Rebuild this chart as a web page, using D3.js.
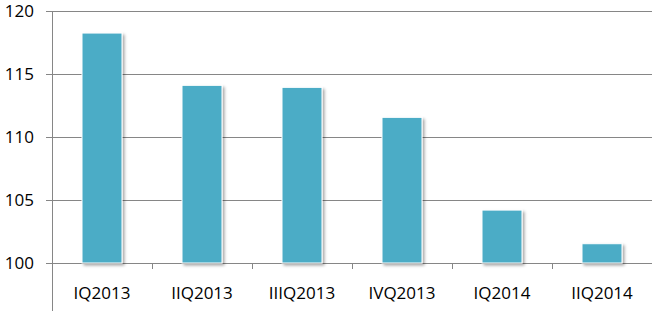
<!DOCTYPE html>
<html>
<head>
<meta charset="utf-8">
<script src="https://cdn.jsdelivr.net/npm/d3@7"></script>
<style>
  html, body { margin: 0; padding: 0; background: #fff; }
  text { font-family: "Open Sans", "Noto Sans", sans-serif; }
</style>
</head>
<body>
<div id="chart"></div>
<script>
// data
const categories = ["IQ2013", "IIQ2013", "IIIQ2013", "IVQ2013", "IQ2014", "IIQ2014"];
const values = [118.25, 114.1, 113.94, 111.56, 104.2, 101.53];
const yTicks = [100, 105, 110, 115, 120];

const W = 652, H = 311;
const margin = {top: 11, right: 0, bottom: 48, left: 52};
const width = W - margin.left - margin.right;
const height = H - margin.top - margin.bottom;

const svg = d3.select("#chart").append("svg")
  .attr("width", W)
  .attr("height", H);

// soft shadow under the bars
const defs = svg.append("defs");
const f = defs.append("filter").attr("id", "shadow")
  .attr("x", "-20%").attr("y", "-20%").attr("width", "150%").attr("height", "150%");
f.append("feDropShadow")
  .attr("dx", 2).attr("dy", 2).attr("stdDeviation", 1.5)
  .attr("flood-color", "#000").attr("flood-opacity", 0.35);

const g = svg.append("g")
  .attr("transform", "translate(" + margin.left + "," + margin.top + ")");

const x = d3.scaleBand()
  .domain(categories)
  .range([0, width])
  .paddingInner(0.6)
  .paddingOuter(0.3);

const y = d3.scaleLinear()
  .domain([100, 120])
  .range([height, 0]);

// gridlines + y axis
const yAxis = g.append("g")
  .call(d3.axisLeft(y).tickValues(yTicks).tickSize(-width).tickPadding(18).tickFormat(d3.format("d")));
yAxis.select(".domain").remove();
yAxis.selectAll(".tick line")
  .attr("x1", -6)
  .attr("stroke", "#868686");
yAxis.selectAll(".tick text")
  .attr("font-size", 17)
  .attr("fill", "#000");

// vertical axis line, runs to the bottom edge
g.append("line")
  .attr("x1", 0.5).attr("x2", 0.5)
  .attr("y1", 0).attr("y2", H - margin.top)
  .attr("stroke", "#868686");

// category tick marks between bars
const step = width / categories.length;
g.append("g").selectAll("line")
  .data(d3.range(1, categories.length + 1))
  .enter().append("line")
  .attr("x1", d => Math.round(d * step) + 0.5)
  .attr("x2", d => Math.round(d * step) + 0.5)
  .attr("y1", height)
  .attr("y2", height + 6)
  .attr("stroke", "#868686");

// bars
g.selectAll("rect.bar")
  .data(values)
  .enter().append("rect")
  .attr("class", "bar")
  .attr("x", (d, i) => x(categories[i]))
  .attr("y", d => y(d))
  .attr("width", x.bandwidth())
  .attr("height", d => height - y(d))
  .attr("fill", "#4bacc6")
  .attr("stroke", "#fff")
  .attr("stroke-width", 1)
  .attr("filter", "url(#shadow)");

// category labels
g.append("g").selectAll("text")
  .data(categories)
  .enter().append("text")
  .attr("x", d => x(d) + x.bandwidth() / 2)
  .attr("y", height + 36)
  .attr("text-anchor", "middle")
  .attr("font-size", 17)
  .attr("fill", "#000")
  .text(d => d);
</script>
</body>
</html>
